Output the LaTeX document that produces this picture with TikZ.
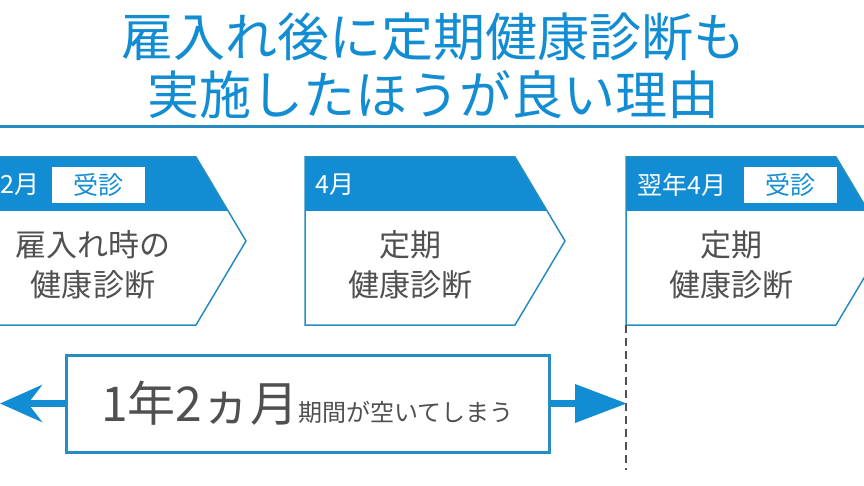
\documentclass[tikz,border=0pt]{standalone}
\usepackage{fontspec}
\setmainfont{Noto Sans CJK JP}
\usepackage{xcolor}
\usepackage{tikz}
\definecolor{hdblue}{RGB}{18,141,211}
\definecolor{lnblue}{RGB}{38,141,192}
\definecolor{txgray}{RGB}{80,80,80}
\tikzset{
	hdtext/.style={anchor=west, text=white, inner sep=0pt, font=\fontsize{25}{25}\selectfont},
	tag/.style={fill=white, text=hdblue, minimum width=93pt, minimum height=36pt, inner sep=0pt, font=\fontsize{25}{25}\selectfont},
	body/.style={align=center, text=txgray, font=\fontsize{31}{40}\selectfont}
}
\tikzstyle{boxline} = [draw, lnblue, line width=1.5pt]
\usetikzlibrary{arrows.meta,positioning}

\begin{document}
\begin{tikzpicture}[x=1pt, y=-1pt]
  \useasboundingbox (0,0) rectangle (864,486);

  % Title
  \node[align=center, text=hdblue, font=\fontsize{52}{58}\selectfont] (title) at (433,66) {雇入れ後に定期健康診断も\\実施したほうが良い理由};
  \draw[lnblue, line width=3pt] (0,127) -- (864,127);

  % Boxes
  \foreach \l in {-14, 305, 626} {
    \begin{scope}
      \clip (\l,157) -- ++(210,0) -- ++(50,84) -- ++(-50,84) -- ++(-210,0) -- cycle;
      \fill[hdblue] (\l,157) rectangle ++(270,54);
    \end{scope}
    \draw[boxline] (\l,157) -- ++(210,0) -- ++(50,84) -- ++(-50,84) -- ++(-210,0) -- cycle;
  }

  \node[hdtext] (m1) at (0.5,185) {2月};
  \node[tag]    (t1) at (98.5,185) {受診};
  \node[body]   (b1) at (93,265)  {雇入れ時の\\健康診断};

  \node[hdtext] (m2) at (315,185) {4月};
  \node[body]   (b2) at (410,265) {定期\\健康診断};

  \node[hdtext] (m3) at (637,185) {翌年4月};
  \node[tag]    (t3) at (790,185) {受診};
  \node[body]   (b3) at (731,265) {定期\\健康診断};

  % Period
  \coordinate (dtop) at (626,325);
  \coordinate (dbot) at (626,470);
  \draw[txgray, line width=1.2pt, dash pattern=on 8pt off 5pt] (dtop) -- (dbot);

  \node[draw=lnblue, line width=3pt, minimum width=483pt, minimum height=97pt, inner sep=0pt, text=txgray] (gap) at (307.5,403.5)
    {{\fontsize{48}{48}\selectfont 1年2ヵ月}{\fontsize{24}{24}\selectfont 期間が空いてしまう}};

  \coordinate (lend) at (0,403.5);
  \coordinate (rend) at (627,403.5);
  \draw[-{Stealth[length=42pt, width=37pt, inset=14pt]}, hdblue, line width=7pt] (gap.west) -- (lend);
  \draw[-{Triangle[length=52pt, width=37pt]}, hdblue, line width=7pt] (gap.east) -- (rend);
\end{tikzpicture}
\end{document}
